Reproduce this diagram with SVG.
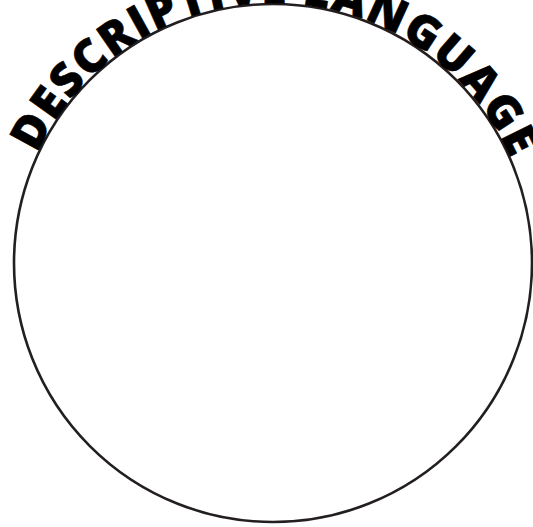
<svg xmlns="http://www.w3.org/2000/svg" xmlns:xlink="http://www.w3.org/1999/xlink" width="533" height="527" viewBox="0 0 533 527">
<style>
.ring{fill:#fff;stroke:#231f20;stroke-width:2.6}
.arc{font-family:"Open Sans","Liberation Sans",Arial,sans-serif;font-weight:800;font-size:46px;fill:#000;stroke:#000;stroke-width:0.6}
</style>
<defs>
<path id="p" d="M 13,263 A 260,260 0 0 1 533,263"/>
</defs>
<rect width="533" height="527" fill="#fff"/>
<g id="circle">
<circle class="ring" cx="273" cy="263" r="259"/>
</g>
<g id="title">
<text class="arc"><textPath xlink:href="#p" startOffset="113" textLength="596" lengthAdjust="spacing">DESCRIPTIVE LANGUAGE</textPath></text>
</g>
</svg>
